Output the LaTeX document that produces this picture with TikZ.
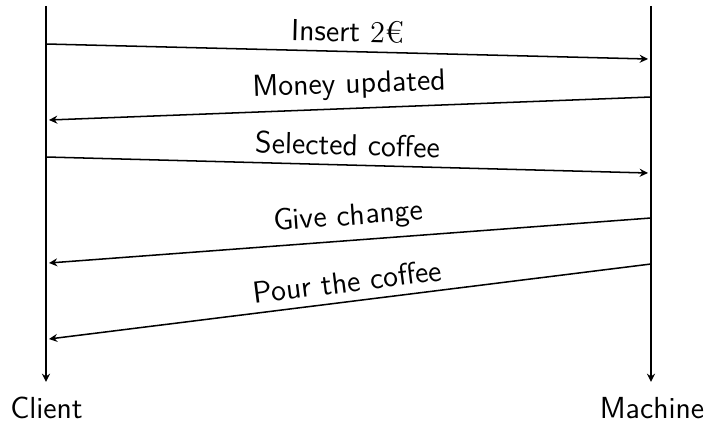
\documentclass[tikz,border=0pt]{standalone}
\usepackage{fontspec}
\usetikzlibrary{arrows.meta}
\begin{document}
\begin{tikzpicture}[x=0.361pt,y=-0.361pt,
  lbl/.style={font=\sffamily\fontsize{11}{13}\selectfont, inner sep=0pt, anchor=base},
  msg/.style={-{Stealth[length=3pt,width=2.9pt,inset=1pt]}, line width=0.55pt},
  msgtext/.style={font=\sffamily\fontsize{11}{13}\selectfont, sloped, above, midway, inner sep=3pt}]
\useasboundingbox (0,0) rectangle (710,422);
\node[lbl] (client) at (46.5,418) {Client};
\node[lbl] (machine) at (652,418) {Machine};
\coordinate (ctop) at (46,6);
\coordinate (mtop) at (651,6);
\coordinate (cbot) at (46,382);
\coordinate (mbot) at (651,382);
\draw[msg] (ctop) -- (cbot);
\draw[msg] (mtop) -- (mbot);
\coordinate (c1) at (46,44);   \coordinate (m1) at (648,59);
\coordinate (m2) at (651,97);  \coordinate (c2) at (49,120);
\coordinate (c3) at (46,157);  \coordinate (m3) at (648,173);
\coordinate (m4) at (651,218); \coordinate (c4) at (49,263);
\coordinate (m5) at (651,264); \coordinate (c5) at (49,339);
\draw[msg] (c1) -- node[msgtext] {Insert {\rmfamily 2€}} (m1);
\draw[msg] (m2) -- node[msgtext] {Money updated} (c2);
\draw[msg] (c3) -- node[msgtext] {Selected coffee} (m3);
\draw[msg] (m4) -- node[msgtext] {Give change} (c4);
\draw[msg] (m5) -- node[msgtext] {Pour the coffee} (c5);
\end{tikzpicture}
\end{document}
